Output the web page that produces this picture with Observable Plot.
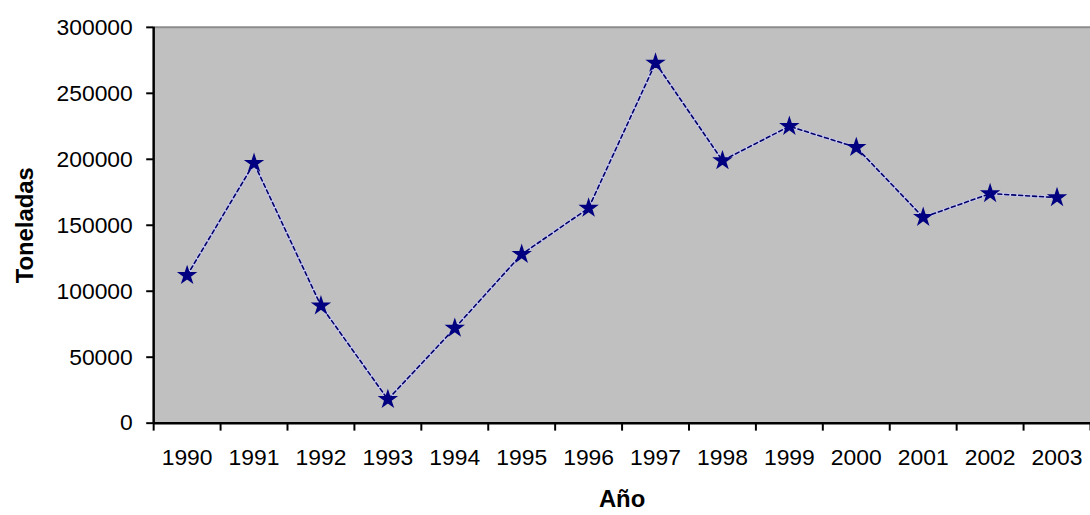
<!DOCTYPE html>
<html>
<head>
<meta charset="utf-8">
<script src="https://cdn.jsdelivr.net/npm/d3@7"></script>
<script src="https://cdn.jsdelivr.net/npm/@observablehq/plot@0.6"></script>
<style>
  html, body { margin: 0; padding: 0; background: white; overflow: hidden; }
</style>
</head>
<body>
<div id="chart"></div>
<script>
// años y toneladas
const years = [1990, 1991, 1992, 1993, 1994, 1995, 1996, 1997, 1998, 1999, 2000, 2001, 2002, 2003];
const tons = [112000, 197000, 89000, 18000, 72000, 128000, 163000, 273000, 199000, 225000, 209000, 156000, 174000, 171000];
const yTicks = [0, 50000, 100000, 150000, 200000, 250000, 300000];

const data = years.map((year, i) => ({ year, tons: tons[i] }));
const bounds = years.map(y => y - 0.5).concat([years[years.length - 1] + 0.5]);

const chart = Plot.plot({
  width: 1096,
  height: 515,
  marginLeft: 154,
  marginRight: 0,
  marginTop: 27,
  marginBottom: 90,
  style: { fontFamily: "'Liberation Sans', Arial, sans-serif", fontSize: "23px", color: "black", background: "white" },
  x: { type: "linear", domain: [bounds[0], bounds[bounds.length - 1]] },
  y: { domain: [0, 300000] },
  marks: [
    Plot.frame({ fill: "#c0c0c0", stroke: null }),
    Plot.ruleY([yTicks[yTicks.length - 1]], { stroke: "#8c8c8c", strokeWidth: 2 }),
    // marcas de los ejes
    Plot.axisY({ ticks: yTicks, tickSize: 7, tickPadding: 14, tickFormat: d => String(d), label: null, strokeWidth: 2 }),
    Plot.axisX({ ticks: bounds, tickSize: 8, tickFormat: () => "", label: null, strokeWidth: 2 }),
    Plot.axisX({ ticks: years, tickSize: 0, tickPadding: 26, tickFormat: d => String(d), label: null }),
    Plot.ruleY([0], { stroke: "black", strokeWidth: 2.5 }),
    Plot.ruleX([bounds[0]], { stroke: "black", strokeWidth: 2.5 }),
    // linea con halo claro y trazo punteado
    Plot.line(data, { x: "year", y: "tons", stroke: "#c8c8f0", strokeWidth: 3 }),
    Plot.line(data, { x: "year", y: "tons", stroke: "#000066", strokeWidth: 1.6, strokeDasharray: "4,3" }),
    Plot.dot(data, { x: "year", y: "tons", symbol: "star", r: 5, fill: "#000080", stroke: "#000080", strokeWidth: 1.5 }),
    Plot.text(["Toneladas"], { frameAnchor: "left", textAnchor: "middle", dx: -129, rotate: -90, fontWeight: "bold", fontSize: 24 }),
    Plot.text(["Año"], { frameAnchor: "bottom", textAnchor: "middle", lineAnchor: "bottom", dy: 84, fontWeight: "bold", fontSize: 24 })
  ]
});

d3.select("#chart").append(() => chart);
</script>
</body>
</html>
